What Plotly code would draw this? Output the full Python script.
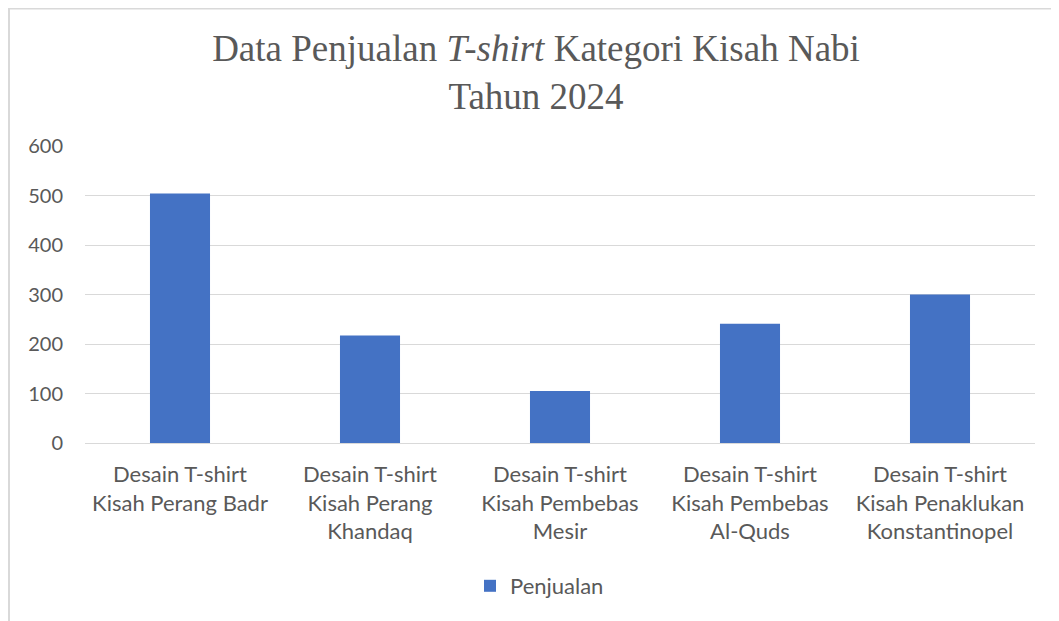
import plotly.graph_objects as go

categories = [
    "Desain T-shirt<br>Kisah Perang Badr",
    "Desain T-shirt<br>Kisah Perang<br>Khandaq",
    "Desain T-shirt<br>Kisah Pembebas<br>Mesir",
    "Desain T-shirt<br>Kisah Pembebas<br>Al-Quds",
    "Desain T-shirt<br>Kisah Penaklukan<br>Konstantinopel",
]
penjualan = [504, 217, 105, 241, 300]
y_ticks = [0, 100, 200, 300, 400, 500, 600]

# the page body has an 8px margin, so the figure starts at (8, 8)
W, H = 1051, 613
L, R, T, B = 77, 24, 138, 178
pw, ph = W - L - R, H - T - B

fig = go.Figure()
fig.add_trace(go.Bar(
    x=categories, y=penjualan, name="Penjualan",
    marker=dict(color="#4472C4", line=dict(width=0)),
    width=0.316,
))

grey = "#595959"
fig.update_layout(
    width=W, height=H,
    margin=dict(l=L, r=R, t=T, b=B),
    paper_bgcolor="white", plot_bgcolor="white",
    title=dict(
        text="Data Penjualan <i>T-shirt</i> Kategori Kisah Nabi<br>Tahun 2024",
        font=dict(family="Liberation Serif", size=37, color=grey),
        x=528 / W, xanchor="center", xref="container",
        y=1 - 53 / H, yanchor="middle", yref="container",
    ),
    font=dict(family="Lato", color=grey),
    showlegend=True,
    legend=dict(
        orientation="h", x=(462 - L) / pw, xanchor="left",
        y=-(578 - (T + ph)) / ph, yanchor="middle",
        font=dict(size=22, color=grey), itemwidth=30,
    ),
    xaxis=dict(
        showgrid=False, showline=False, ticks="",
        tickfont=dict(size=22, color=grey), tickangle=0,
        ticklabelstandoff=16,
    ),
    yaxis=dict(
        range=[0, 600], tickvals=y_ticks, showgrid=True,
        gridcolor="#d9d9d9", gridwidth=1.3, zeroline=True,
        zerolinecolor="#d9d9d9", zerolinewidth=1.3, showline=False,
        tickfont=dict(size=20, color=grey), ticklabelstandoff=21,
    ),
    shapes=[
        dict(type="line", xref="paper", yref="paper",
             x0=(1 - L) / pw, x1=(1 - L) / pw, y0=(T + ph) / ph, y1=(T + ph - H - 5) / ph,
             line=dict(color="#d9d9d9", width=2)),
        dict(type="line", xref="paper", yref="paper",
             x0=(0 - L) / pw, x1=(W + 5 - L) / pw, y0=(T + ph - 0.5) / ph, y1=(T + ph - 0.5) / ph,
             line=dict(color="#d9d9d9", width=2)),
    ],
)

fig.write_html("out.html")
